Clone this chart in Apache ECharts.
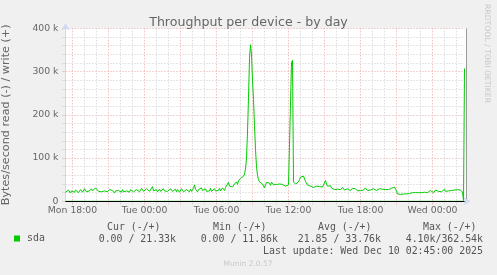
<!DOCTYPE html>
<html><head><meta charset="utf-8">
<script src="https://cdn.jsdelivr.net/npm/echarts@6/dist/echarts.min.js"></script>
<style>html,body{margin:0;padding:0;background:#f0f0f0}#c{width:497px;height:275px}</style>
</head><body><div id="c"></div>
<script>
// write (+) throughput in kB/s, one value per 5 minutes, Mon 17:25 .. Wed 02:40
const writeK = [
21,25,22,26,23,19,24,27,22,21,26,28,23,20,24,27,25,21,24,29,26,22,26,21,24,28,29,24,22,27,31,
33,27,23,21,27,22,26,20,24,28,25,22,21,27,23,28,25,21,19,24,27,22,25,28,23,21,27,22,20,26,
24,28,25,21,27,29,23,22,26,20,27,23,28,22,25,30,26,23,21,26,29,27,28,23,21,27,34,24,22,25,
27,22,26,28,23,21,27,29,24,22,28,23,20,25,29,26,23,21,26,28,22,27,24,21,25,29,26,22,26,23,
27,29,24,22,28,23,27,30,38,28,24,22,27,23,28,31,25,22,26,29,23,21,27,24,30,23,22,27,29,24,
23,28,25,30,24,28,31,27,25,32,28,36,44,35,31,36,33,37,40,
42,45,39,47,48,53,50,56,58,63,75,100,160,240,330,362,340,280,235,175,120,80,60,50,
45,47,43,40,36,31,38,44,46,40,42,37,44,41,38,40,42,39,41,43,40,38,42,39,37,36,35,33,36,38,35,37,
320,326,
45,42,40,43,41,45,50,56,59,60,58,54,46,42,38,36,34,35,33,36,32,34,31,35,33,37,34,32,36,33,38,42,48,40,35,34,33,36,31,34,
29,27,31,26,28,30,25,27,29,32,28,26,24,27,29,26,28,25,27,30,28,26,29,27,24,26,28,25,27,29,
26,28,31,27,25,27,28,26,24,27,29,26,28,25,27,26,29,27,25,28,
26,28,27,25,29,27,26,28,30,27,28,33,36,
24,17,15,14,16,15,18,17,19,18,17,20,19,18,21,19,20,18,22,20,
19,21,20,23,21,20,22,19,21,24,22,20,23,21,25,22,24,20,23,26,
30,25,23,27,24,22,26,25,28,23,25,27,24,26,23,25,27,24,26,22,
25,27,24,23,26,25,21,
2,307
];
// read (-) throughput in kB/s: zero except these samples
const readIdx = [164, 175, 380];
const readK = [-4.10, -2.5, -2.1];

const startMinute = 17 * 60 + 25, stepMinutes = 5;
const dayNames = ['Mon', 'Tue', 'Wed'];
const tickLabels = ['Mon 18:00', 'Tue 00:00', 'Tue 06:00', 'Tue 12:00', 'Tue 18:00', 'Wed 00:00'];
const yTicks = [0, 100, 200, 300, 400];

const legendHeader = ['Cur (-/+)', 'Min (-/+)', 'Avg (-/+)', 'Max (-/+)'];
const legendValues = ['0.00 / 21.33k', '0.00 / 11.86k', '21.85 / 33.76k', '4.10k/362.54k'];
const lastUpdate = 'Last update: Wed Dec 10 02:45:00 2025';

const categories = writeK.map((_, i) => {
  const m = startMinute + i * stepMinutes;
  const d = dayNames[Math.floor(m / 1440)];
  const hh = Math.floor((m % 1440) / 60), mm = m % 60;
  return d + ' ' + String(hh).padStart(2, '0') + ':' + String(mm).padStart(2, '0');
});
const readSeries = writeK.map(() => 0);
readIdx.forEach((ix, k) => { readSeries[ix] = readK[k]; });

const isHour = v => v.endsWith(':00');
const hourOf = v => parseInt(v.slice(4, 6), 10);
const isMajor = v => isHour(v) && hourOf(v) % 3 === 0;

const RED = '#eda5a5', GREY = '#cccccc', AXIS = '#cfd6f8', FONT = '#666666';
const sans = 'DejaVu Sans', mono = 'DejaVu Sans Mono';

const chart = echarts.init(document.getElementById('c'), null, {renderer: 'canvas'});
const G = {left: 65.5, top: 28.3, width: 399, height: 173, containLabel: false, outerBoundsMode: 'none',
  show: true, backgroundColor: '#ffffff', borderWidth: 0, borderColor: 'transparent'};

const graphic = [
  {type: 'rect', z: -10, silent: true, shape: {x: 464.5, y: 28.3, width: 2, height: 173}, style: {fill: '#ffffff'}},
  {type: 'text', x: 487, y: 53.5, rotation: -Math.PI / 2, silent: true,
   style: {text: 'RRDTOOL / TOBI OETIKER', font: '7.7px ' + sans, fill: '#c8c8c8', align: 'center', verticalAlign: 'middle'}},
  {type: 'line', silent: true, shape: {x1: 466.5, y1: 28.3, x2: 466.5, y2: 201.3}, style: {stroke: '#9a9a9a', lineWidth: 1}},
  {type: 'text', x: 248, y: 264.3, silent: true,
   style: {text: 'Munin 2.0.57', font: '7.5px ' + sans, fill: '#c8c8c8', align: 'center', verticalAlign: 'middle'}},
  {type: 'text', x: 483, y: 251, silent: true,
   style: {text: lastUpdate, font: '9.9px ' + mono, fill: '#555', align: 'right', verticalAlign: 'middle'}}
];
const headerX = [107, 213, 318, 423];
legendHeader.forEach((t, k) => graphic.push({type: 'text', x: headerX[k], y: 227.7, silent: true,
  style: {text: t, font: '9.9px ' + mono, fill: '#555', align: 'left', verticalAlign: 'middle'}}));
const valueRight = [176, 278, 381, 483];
legendValues.forEach((t, k) => graphic.push({type: 'text', x: valueRight[k], y: 239.5, silent: true,
  style: {text: t, font: '9.9px ' + mono, fill: '#555', align: 'right', verticalAlign: 'middle'}}));

chart.setOption({
  backgroundColor: '#f0f0f0',
  animation: false,
  title: {text: 'Throughput per device - by day', left: 'center', top: 11,
    textStyle: {fontFamily: sans, fontSize: 12.6, fontWeight: 'normal', color: FONT}},
  legend: {data: ['sda'], left: 14, top: 233.5, padding: 0, icon: 'rect', itemWidth: 6, itemHeight: 6,
    itemGap: 10, textStyle: {fontFamily: mono, fontSize: 9.9, color: '#555', padding: [0, 0, 0, 2]}},
  grid: G,
  xAxis: [
    {type: 'category', data: categories, boundaryGap: false, position: 'bottom',
     axisLine: {show: true, onZero: false, lineStyle: {color: AXIS, width: 1}, symbol: ['none', 'arrow'], symbolSize: [6, 7], symbolOffset: [0, 6]},
     axisTick: {show: true, length: 3, interval: (i, v) => isMajor(v), lineStyle: {color: RED, type: [1, 1]}},
     axisLabel: {interval: (i, v) => tickLabels.includes(v), formatter: v => v, margin: 5,
       fontFamily: sans, fontSize: 9.3, color: FONT},
     splitLine: {show: true, interval: (i, v) => isMajor(v), lineStyle: {color: RED, width: 1, type: [1, 2]}},
     z: 1},
    {type: 'category', data: categories, boundaryGap: false, position: 'bottom',
     axisLine: {show: false}, axisLabel: {show: false},
     axisTick: {show: true, length: 3, interval: (i, v) => isHour(v) && !isMajor(v), lineStyle: {color: GREY, type: [1, 1]}},
     splitLine: {show: true, interval: (i, v) => isHour(v) && !isMajor(v), lineStyle: {color: GREY, width: 1, type: [1, 2]}},
     z: 0}
  ],
  yAxis: {type: 'value', min: yTicks[0], max: yTicks[yTicks.length - 1], interval: yTicks[1] - yTicks[0],
    name: 'Bytes/second read (-) / write (+)', nameLocation: 'middle', nameRotate: 90, nameGap: 54,
    nameTextStyle: {fontFamily: sans, fontSize: 11.2, color: FONT},
    axisLine: {show: true, onZero: false, lineStyle: {color: AXIS, width: 1}, symbol: ['none', 'arrow'], symbolSize: [6, 7], symbolOffset: [0, 5]},
    axisTick: {show: true, length: 3, lineStyle: {color: RED, type: [1, 1]}},
    minorTick: {show: true, splitNumber: 5, length: 3, lineStyle: {color: GREY, type: [1, 1]}},
    axisLabel: {formatter: v => v === 0 ? '0' : v + ' k', margin: 7, fontFamily: sans, fontSize: 9.3, color: FONT},
    splitLine: {show: true, lineStyle: {color: RED, width: 1, type: [1, 2]}},
    minorSplitLine: {show: true, lineStyle: {color: GREY, width: 1, type: [1, 2]}}
  },
  series: [
    {name: 'sda-read', type: 'line', data: readSeries, xAxisIndex: 0, symbol: 'none', clip: false,
     lineStyle: {color: '#00cc00', width: 1}, itemStyle: {color: '#00cc00'}, z: 2},
    {name: 'sda', type: 'line', data: writeK, xAxisIndex: 0, symbol: 'none', clip: false,
     lineStyle: {color: '#00cc00', width: 1}, itemStyle: {color: '#00cc00'}, z: 3,
     markLine: {silent: true, symbol: 'none', label: {show: false}, animation: false,
       lineStyle: {color: '#000000', width: 1, type: 'solid'}, data: [{yAxis: 0}]}}
  ],
  graphic: graphic
});
</script></body></html>
